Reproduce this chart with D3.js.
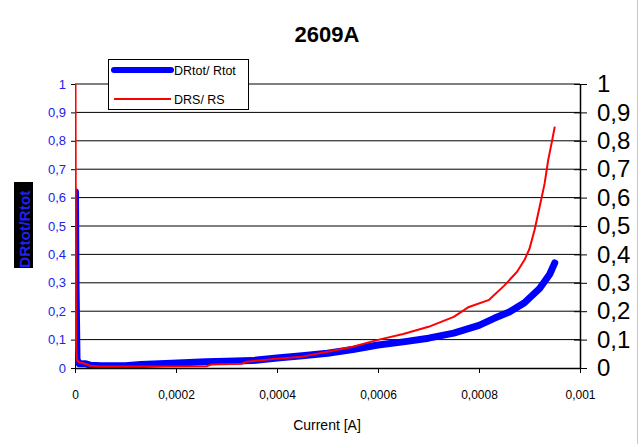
<!DOCTYPE html>
<html><head><meta charset="utf-8">
<script src="https://cdn.jsdelivr.net/npm/d3@7"></script>
<style>body{margin:0;background:#fff}svg{display:block;font-family:"Liberation Sans",Arial,sans-serif}</style>
</head><body><svg id="c" width="641" height="444"></svg>
<script>
const title = "2609A";
const xTicks = [0, 0.0002, 0.0004, 0.0006, 0.0008, 0.001];
const xTickLabels = ["0", "0,0002", "0,0004", "0,0006", "0,0008", "0,001"];
const yTicks = [0, 0.1, 0.2, 0.3, 0.4, 0.5, 0.6, 0.7, 0.8, 0.9, 1];
const yTickLabels = ["0", "0,1", "0,2", "0,3", "0,4", "0,5", "0,6", "0,7", "0,8", "0,9", "1"];
const seriesNames = ["DRtot/ Rtot", "DRS/ RS"];

const blueX = [0.000001, 0.000002, 0.000004, 0.000008, 0.00002, 0.00003, 0.00005, 0.0001, 0.00013, 0.00018, 0.00026, 0.0003, 0.00035, 0.0004, 0.00045, 0.0005, 0.00055, 0.0006, 0.00065, 0.0007, 0.00075, 0.0008, 0.00083, 0.00086, 0.00089, 0.00092, 0.00094, 0.00095];
const blueY = [0.62, 0.3, 0.03, 0.015, 0.015, 0.01, 0.008, 0.008, 0.012, 0.016, 0.022, 0.024, 0.026, 0.035, 0.043, 0.052, 0.065, 0.081, 0.092, 0.105, 0.123, 0.15, 0.175, 0.197, 0.23, 0.28, 0.33, 0.37];

const redX = [0.000001, 0.000002, 0.000004, 0.000008, 0.00002, 0.00003, 0.00005, 0.0001, 0.00018, 0.00026, 0.00027, 0.00033, 0.00034, 0.0004, 0.00045, 0.0005, 0.00055, 0.0006, 0.00065, 0.0007, 0.00075, 0.00078, 0.00082, 0.00085, 0.000875, 0.00089, 0.0009, 0.00091, 0.00092, 0.00093, 0.000937, 0.000945, 0.00095];
const redY = [1.0, 0.08, 0.028, 0.02, 0.015, 0.008, 0.005, 0.005, 0.005, 0.006, 0.012, 0.015, 0.022, 0.033, 0.04, 0.057, 0.075, 0.099, 0.12, 0.145, 0.18, 0.215, 0.24, 0.29, 0.338, 0.38, 0.42, 0.486, 0.567, 0.65, 0.732, 0.803, 0.85];

const svg = d3.select("#c");
const L = 75, R = 580, T = 84, B = 368;
const x = d3.scaleLinear().domain([0, 0.001]).range([L, R]);
const y = d3.scaleLinear().domain([0, 1]).range([B, T]);

// outer chart border (right edge visible)
svg.append("line").attr("x1", 637.5).attr("x2", 637.5).attr("y1", 0).attr("y2", 444).attr("stroke", "#c8c8c8");

// title
svg.append("text").attr("x", 327).attr("y", 42).attr("text-anchor", "middle")
  .attr("font-size", 22).attr("font-weight", "bold").text(title);

// gridlines
svg.append("g").selectAll("line").data(yTicks.slice(1)).join("line")
  .attr("x1", L).attr("x2", R).attr("y1", d => y(d)).attr("y2", d => y(d))
  .attr("stroke", "#000").attr("stroke-width", 1);

// x axis
const xAxis = d3.axisBottom(x).tickValues(xTicks).tickSize(5).tickSizeOuter(0)
  .tickFormat((d, i) => xTickLabels[i]);
const gx = svg.append("g").attr("transform", `translate(0,${B})`).call(xAxis);
gx.select(".domain").attr("stroke", "#000").attr("stroke-width", 1.5);
gx.selectAll(".tick line").attr("stroke", "#000");
gx.selectAll("text").attr("font-size", 12).attr("font-family", "Liberation Sans, Arial").attr("dy", "1.9em").attr("fill", "#000");

// left axis
const yAxisL = d3.axisLeft(y).tickValues(yTicks).tickSize(4).tickSizeOuter(0)
  .tickFormat((d, i) => yTickLabels[i]);
const gl = svg.append("g").attr("transform", `translate(${L},0)`).call(yAxisL);
gl.select(".domain").attr("stroke", "#000");
gl.selectAll(".tick line").attr("stroke", "#000");
gl.selectAll("text").attr("font-size", 13).attr("font-family", "Liberation Sans, Arial").attr("fill", "#2222ee").attr("x", -9);

// right axis
const yAxisR = d3.axisRight(y).tickValues(yTicks).tickSize(7).tickSizeOuter(0)
  .tickFormat((d, i) => yTickLabels[i]);
const gr = svg.append("g").attr("transform", `translate(${R},0)`).call(yAxisR);
gr.select(".domain").attr("stroke", "#000").attr("stroke-width", 1.5);
gr.selectAll(".tick line").attr("stroke", "#000").attr("x1", -6);
gr.selectAll("text").attr("font-size", 24).attr("font-family", "Liberation Sans, Arial").attr("fill", "#000").attr("x", 17);

// clip
svg.append("clipPath").attr("id", "pa").append("rect").attr("x", L).attr("y", T - 2).attr("width", R - L).attr("height", B - T + 2);

const line = d3.line().x(d => x(d[0])).y(d => y(d[1]));
const blue = blueX.map((v, i) => [v, blueY[i]]);
const red = redX.map((v, i) => [v, redY[i]]);
const plot = svg.append("g").attr("clip-path", "url(#pa)");
plot.append("path").attr("d", line(blue)).attr("fill", "none").attr("stroke", "#0000ff")
  .attr("stroke-width", 7).attr("stroke-linejoin", "round").attr("stroke-linecap", "round");
plot.append("path").attr("d", line(red)).attr("fill", "none").attr("stroke", "#ff0000")
  .attr("stroke-width", 2).attr("stroke-linejoin", "round");

// legend
const lg = svg.append("g");
lg.append("rect").attr("x", 108.5).attr("y", 59.5).attr("width", 140).attr("height", 50)
  .attr("fill", "#fff").attr("stroke", "#000");
lg.append("line").attr("x1", 114).attr("x2", 171).attr("y1", 70).attr("y2", 70)
  .attr("stroke", "#0000ff").attr("stroke-width", 6).attr("stroke-linecap", "round");
lg.append("line").attr("x1", 114).attr("x2", 171).attr("y1", 99).attr("y2", 99)
  .attr("stroke", "#ff0000").attr("stroke-width", 2);
lg.append("text").attr("x", 174).attr("y", 75).attr("font-size", 12.5).text(seriesNames[0]);
lg.append("text").attr("x", 174).attr("y", 104).attr("font-size", 12.5).text(seriesNames[1]);

// axis titles
svg.append("text").attr("x", 327).attr("y", 430).attr("text-anchor", "middle").attr("font-size", 14).text("Current [A]");
svg.append("clipPath").attr("id", "yt").append("rect").attr("x", 14).attr("y", 182).attr("width", 19).attr("height", 86);
svg.append("rect").attr("x", 14).attr("y", 182).attr("width", 19).attr("height", 86).attr("fill", "#000");
svg.append("g").attr("clip-path", "url(#yt)").append("text")
  .attr("transform", "translate(30,268) rotate(-90)").attr("font-size", 15.5).attr("font-weight", "bold")
  .attr("fill", "#2222ee").text("DRtot/Rtot");
</script></body></html>
